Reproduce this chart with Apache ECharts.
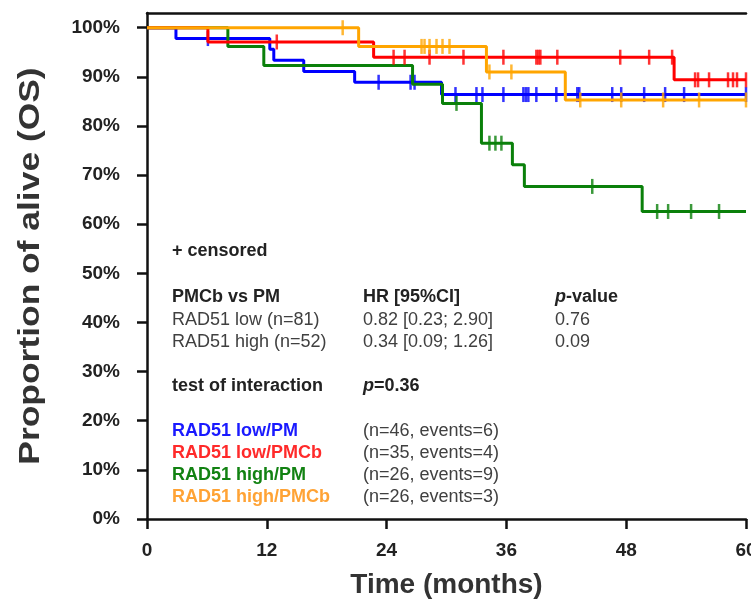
<!DOCTYPE html>
<html>
<head>
<meta charset="utf-8">
<script src="https://cdn.jsdelivr.net/npm/echarts@6/dist/echarts.min.js"></script>
<style>
  html, body { margin: 0; padding: 0; background: #fff; }
  #main { width: 751px; height: 600px; }
</style>
</head>
<body>
<div id="main"></div>
<script>
// step points (months, % alive) and censor times per group
var blueTimes = [0, 2.9, 12.3, 12.7, 15.7, 20.8, 29.5, 60];
var blueSurv = [100, 97.8, 95.6, 93.4, 91.1, 88.9, 86.4, 86.4];
var blueCens = [6.1, 23.2, 26.4, 26.8, 30.9, 33.0, 33.6, 35.7, 37.7, 37.95, 38.2, 39.0, 41.0, 43.1, 43.3, 46.6, 47.5, 49.8, 51.9, 53.8, 60];

var redTimes = [0, 6.1, 22.7, 52.8, 60];
var redSurv = [100, 97.1, 94.0, 89.4, 89.4];
var redCens = [13.0, 24.7, 25.8, 28.3, 31.7, 35.7, 39.0, 39.2, 39.4, 41.1, 47.4, 50.3, 52.6, 54.9, 55.2, 56.3, 58.2, 58.7, 59.1, 60];

var greenTimes = [0, 8.1, 11.7, 26.6, 29.6, 33.5, 36.6, 37.8, 49.6, 60];
var greenSurv = [100, 96.2, 92.3, 88.5, 84.6, 76.5, 72.1, 67.7, 62.6, 62.6];
var greenCens = [31.0, 34.3, 34.9, 35.5, 44.6, 51.1, 52.2, 54.5, 57.3];

var orangeTimes = [0, 21.2, 34.0, 41.9, 60];
var orangeSurv = [100, 96.2, 91.0, 85.3, 85.3];
var orangeCens = [19.6, 27.5, 27.8, 28.3, 29.0, 29.6, 30.3, 34.3, 36.5, 43.4, 47.5, 51.7, 55.3, 60];

var yTicks = [0, 10, 20, 30, 40, 50, 60, 70, 80, 90, 100];
var xTicks = [0, 12, 24, 36, 48, 60];

var groups = [
  { name: "RAD51 low/PM", times: blueTimes, surv: blueSurv, cens: blueCens, color: "#0000ff" },
  { name: "RAD51 high/PM", times: greenTimes, surv: greenSurv, cens: greenCens, color: "#0a800a" },
  { name: "RAD51 low/PMCb", times: redTimes, surv: redSurv, cens: redCens, color: "#ff0000" },
  { name: "RAD51 high/PMCb", times: orangeTimes, surv: orangeSurv, cens: orangeCens, color: "#ffa500" }
];

function survAt(times, surv, t) {
  var v = surv[0];
  for (var i = 0; i < times.length; i++) {
    if (times[i] <= t) v = surv[i];
  }
  return v;
}

var series = [];
groups.forEach(function (g, k) {
  series.push({
    name: g.name,
    type: "line",
    step: "end",
    symbol: "none",
    z: 2 + k,
    lineStyle: { color: g.color, width: 3 },
    data: g.times.map(function (t, i) { return [t, g.surv[i]]; }),
    animation: false
  });
  series.push({
    name: g.name + " censored",
    type: "scatter",
    symbol: "rect",
    symbolSize: [2.5, 15],
    z: 2 + k,
    itemStyle: { color: g.color },
    data: g.cens.map(function (t) { return [t, survAt(g.times, g.surv, t)]; }),
    animation: false
  });
});

var txtLeft = 172, txtMid = 363, txtRight = 555;
var bold = "bold 18px 'Liberation Sans', Arial, sans-serif";
var norm = "18px 'Liberation Sans', Arial, sans-serif";
function label(x, y, text, font, color, rich) {
  var el = {
    type: "text", left: x, top: y - 8,
    style: { text: text, font: font, fill: color || "#222" },
    z: 20
  };
  if (rich) el.style.rich = rich;
  return el;
}
var richP = {
  i: { font: "bold italic 18px 'Liberation Sans', Arial, sans-serif", fill: "#222" },
  b: { font: bold, fill: "#222" }
};

var texts = [
  label(txtLeft, 250, "+ censored", bold),
  label(txtLeft, 296, "PMCb vs PM", bold),
  label(txtMid, 296, "HR [95%CI]", bold),
  label(txtRight, 296, "{i|p}{b|-value}", bold, "#222", richP),
  label(txtLeft, 319, "RAD51 low (n=81)", norm, "#404040"),
  label(txtMid, 319, "0.82 [0.23; 2.90]", norm, "#404040"),
  label(txtRight, 319, "0.76", norm, "#404040"),
  label(txtLeft, 341, "RAD51 high (n=52)", norm, "#404040"),
  label(txtMid, 341, "0.34 [0.09; 1.26]", norm, "#404040"),
  label(txtRight, 341, "0.09", norm, "#404040"),
  label(txtLeft, 385, "test of interaction", bold),
  label(txtMid, 385, "{i|p}{b|=0.36}", bold, "#222", richP),
  label(txtLeft, 430, "RAD51 low/PM", bold, "#1a1aff"),
  label(txtLeft, 452, "RAD51 low/PMCb", bold, "#ff2a2a"),
  label(txtLeft, 474, "RAD51 high/PM", bold, "#128212"),
  label(txtLeft, 496, "RAD51 high/PMCb", bold, "#ffa335"),
  label(txtMid, 430, "(n=46, events=6)", norm, "#404040"),
  label(txtMid, 452, "(n=35, events=4)", norm, "#404040"),
  label(txtMid, 474, "(n=26, events=9)", norm, "#404040"),
  label(txtMid, 496, "(n=26, events=3)", norm, "#404040"),
  {
    type: "text", x: 31, y: 266, rotation: Math.PI / 2, scaleX: 1.18,
    style: {
      text: "Proportion of alive (OS)",
      font: "bold 30px 'Liberation Sans', Arial, sans-serif",
      fill: "#333", align: "center", verticalAlign: "middle"
    },
    z: 20
  }
];

var chart = echarts.init(document.getElementById("main"));
chart.setOption({
  backgroundColor: "#fff",
  animation: false,
  grid: { left: 147, right: 5, top: 13, bottom: 81, containLabel: false, outerBoundsMode: "none" },
  xAxis: [{
    type: "value", min: 0, max: 60, interval: 12,
    name: "Time (months)", nameLocation: "middle", nameGap: 52,
    nameTextStyle: { fontSize: 28, fontWeight: "bold", color: "#333", fontFamily: "Liberation Sans" },
    axisLine: { lineStyle: { color: "#111", width: 2.5 } },
    axisTick: { show: true, length: 10, lineStyle: { color: "#111", width: 2.5 } },
    axisLabel: { fontSize: 19, fontWeight: "bold", color: "#222", margin: 22, fontFamily: "Liberation Sans" },
    splitLine: { show: false }
  }, {
    type: "value", position: "top", min: 0, max: 60,
    axisLine: { show: true, onZero: false, lineStyle: { color: "#111", width: 2.5 } },
    axisTick: { show: false }, axisLabel: { show: false }, splitLine: { show: false }
  }],
  yAxis: {
    type: "value", min: 0, max: 103, interval: 10,
    axisLine: { show: true, lineStyle: { color: "#111", width: 2.5 } },
    axisTick: { show: true, length: 10, customValues: yTicks, lineStyle: { color: "#111", width: 2.5 } },
    axisLabel: {
      fontSize: 19, fontWeight: "bold", color: "#222", margin: 27, fontFamily: "Liberation Sans",
      customValues: yTicks,
      formatter: function (v) { return v + "%"; }
    },
    splitLine: { show: false }
  },
  series: series,
  graphic: texts
});
</script>
</body>
</html>
